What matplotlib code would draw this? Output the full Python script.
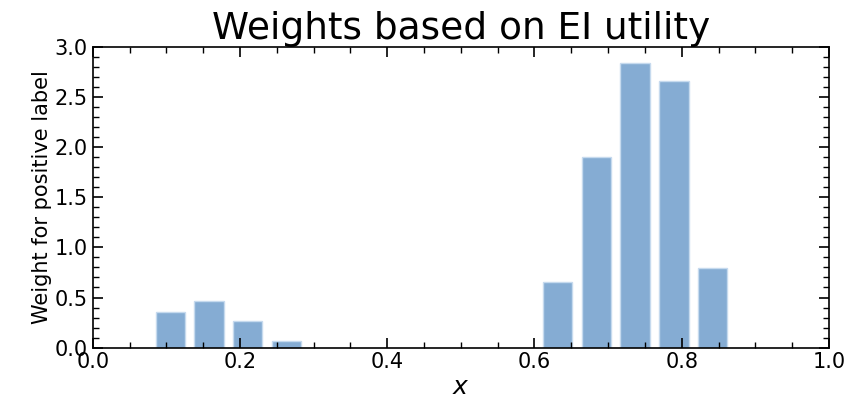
import matplotlib.pyplot as plt
import numpy as np
from matplotlib.ticker import MultipleLocator

# bar positions lie on a 20-point grid over [0, 1]
grid = np.linspace(0, 1, 20)
bar_idx = [2, 3, 4, 5, 12, 13, 14, 15, 16]
weights = [0.36, 0.465, 0.263, 0.065, 0.657, 1.898, 2.84, 2.656, 0.796]

x = grid[bar_idx]

fig, ax = plt.subplots(figsize=(8.59, 4.08), dpi=100)
ax.bar(x, weights, width=0.04, color='#85acd3', edgecolor='#c6daee', linewidth=1)

ax.set_xlim(0, 1)
ax.set_ylim(0, 3)
ax.xaxis.set_major_locator(MultipleLocator(0.2))
ax.xaxis.set_minor_locator(MultipleLocator(0.05))
ax.yaxis.set_major_locator(MultipleLocator(0.5))
ax.yaxis.set_minor_locator(MultipleLocator(0.1))
ax.tick_params(which='both', direction='in', top=True, right=True)
ax.tick_params(which='major', length=7, width=1.2, labelsize=15)
ax.tick_params(which='minor', length=4, width=1)
for s in ax.spines.values():
    s.set_linewidth(1.2)

ax.set_title('Weights based on EI utility', fontsize=27, pad=4)
ax.set_xlabel('$x$', fontsize=18, labelpad=2)
ax.set_ylabel('Weight for positive label', fontsize=15, labelpad=2)

plt.subplots_adjust(left=0.108, right=0.965, top=0.885, bottom=0.148)
plt.savefig('out.png')
